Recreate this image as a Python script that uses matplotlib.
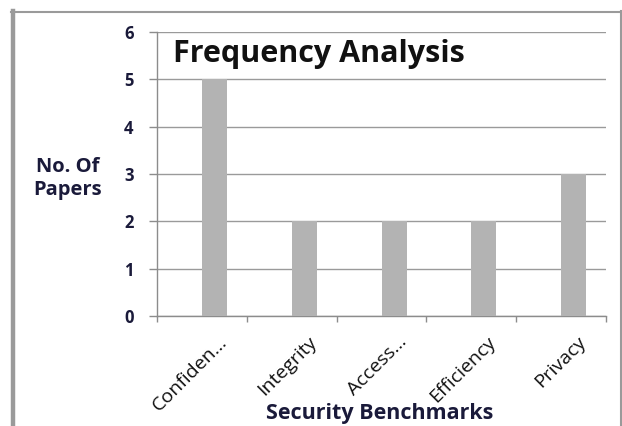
import matplotlib
matplotlib.use("Agg")
import matplotlib.pyplot as plt
from matplotlib.lines import Line2D
from matplotlib.transforms import offset_copy

categories = ["Confiden...", "Integrity", "Access...", "Efficiency", "Privacy"]
papers = [5, 2, 2, 2, 3]
y_ticks = [0, 1, 2, 3, 4, 5, 6]

plt.rcParams["font.family"] = ["Open Sans", "DejaVu Sans"]

W, H = 622, 426
fig = plt.figure(figsize=(W / 100, H / 100), dpi=100)
fig.patch.set_facecolor("white")

# outer chart frame
frame_col = "#9a9a9a"
fig.add_artist(Line2D([12.5 / W, 12.5 / W], [0, 1 - 11 / H], transform=fig.transFigure,
                      color=frame_col, lw=3.2))
fig.add_artist(Line2D([11 / W, 621 / W], [1 - 11.5 / H, 1 - 11.5 / H], transform=fig.transFigure,
                      color=frame_col, lw=1.5))
fig.add_artist(Line2D([621 / W, 621 / W], [0, 1 - 11 / H], transform=fig.transFigure,
                      color=frame_col, lw=1.5))

left, right, top, bottom = 157, 606, 32, 316
ax = fig.add_axes([left / W, 1 - bottom / H, (right - left) / W, (bottom - top) / H])

x = list(range(len(categories)))
ax.bar([i + 0.5 for i in x], papers, width=0.28, align="edge", color="#b3b3b3", zorder=3)

ax.set_xlim(0, len(categories))
ax.set_ylim(0, 6)
ax.set_yticks(y_ticks)
ax.set_yticklabels([str(v) for v in y_ticks], fontweight="bold", fontsize=12, color="#1a1a3a")
ax.tick_params(axis="y", length=5.8, width=1, color="#8c8c8c", pad=11)

ax.set_xticks(range(len(categories) + 1))
ax.set_xticklabels([])
ax.tick_params(axis="x", length=4.3, width=1, color="#8c8c8c", direction="out")

ax.grid(axis="y", color="#9a9a9a", lw=1, zorder=0)
for s in ["top", "right"]:
    ax.spines[s].set_visible(False)
for s in ["left", "bottom"]:
    ax.spines[s].set_color("#8c8c8c")
    ax.spines[s].set_linewidth(1)

# rotated category labels
for i, lab in enumerate(categories):
    tr = offset_copy(ax.get_xaxis_transform(), fig=fig, x=22, y=-23, units="dots")
    ax.text(i + 0.5, 0, lab, transform=tr, rotation=45, rotation_mode="anchor",
            ha="right", va="center", fontsize=14, color="#111111")

fig.text(173 / W, 1 - 54 / H, "Frequency Analysis", fontsize=22,
         fontweight="bold", color="#111111", ha="left", va="center")

fig.text(68 / W, 1 - 178 / H, "No. Of\nPapers", fontsize=14.5, fontweight="bold",
         ha="center", va="center", color="#1a1a3a", linespacing=1.2)

fig.text(380 / W, 1 - 413 / H, "Security Benchmarks", fontsize=15.5, fontweight="bold",
         ha="center", va="center", color="#1a1a3a")

fig.savefig("out.png", dpi=100, facecolor="white")
